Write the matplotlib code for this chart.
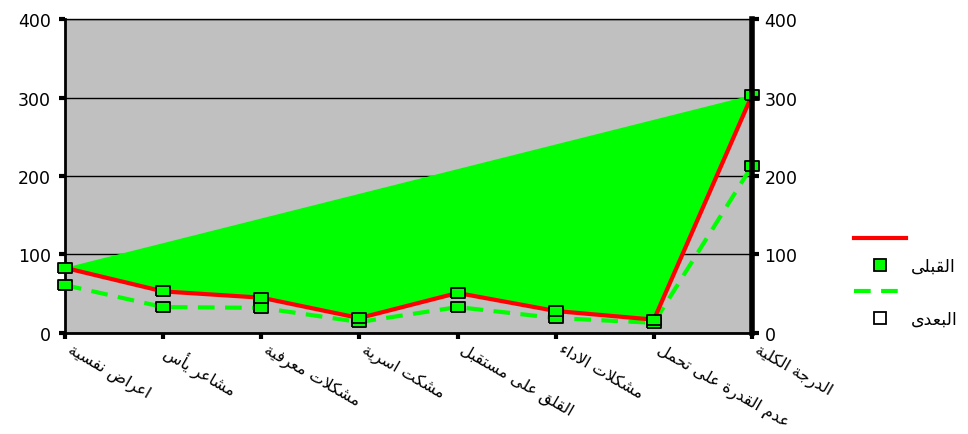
#! /usr/bin/env python3
# -*- coding: utf-8 -*-

import matplotlib
matplotlib.use("Agg")
import matplotlib.pyplot as plt
from matplotlib.lines import Line2D


categories = ["اعراض نفسية", "مشاعر يأس", "مشكلات معرفية", "مشكت اسرية",
              "القلق على مستقبل", "مشكلات الاداء", "عدم القدرة على تحمل",
              "الدرجة الكلية"]
before = [83, 53, 45, 19, 51, 28, 17, 303]
after = [61, 33, 32, 14, 33, 19, 13, 213]
yticks = [0, 100, 200, 300, 400]
labels = ["القبلى", "البعدى"]

# matplotlib has no arabic shaping, so map to presentation forms by hand
FORMS = {
    "ء": (0xFE80,), "آ": (0xFE81, 0xFE82), "أ": (0xFE83, 0xFE84),
    "ؤ": (0xFE85, 0xFE86), "إ": (0xFE87, 0xFE88),
    "ئ": (0xFE89, 0xFE8A, 0xFE8B, 0xFE8C), "ا": (0xFE8D, 0xFE8E),
    "ب": (0xFE8F, 0xFE90, 0xFE91, 0xFE92), "ة": (0xFE93, 0xFE94),
    "ت": (0xFE95, 0xFE96, 0xFE97, 0xFE98), "ث": (0xFE99, 0xFE9A, 0xFE9B, 0xFE9C),
    "ج": (0xFE9D, 0xFE9E, 0xFE9F, 0xFEA0), "ح": (0xFEA1, 0xFEA2, 0xFEA3, 0xFEA4),
    "خ": (0xFEA5, 0xFEA6, 0xFEA7, 0xFEA8), "د": (0xFEA9, 0xFEAA),
    "ذ": (0xFEAB, 0xFEAC), "ر": (0xFEAD, 0xFEAE), "ز": (0xFEAF, 0xFEB0),
    "س": (0xFEB1, 0xFEB2, 0xFEB3, 0xFEB4), "ش": (0xFEB5, 0xFEB6, 0xFEB7, 0xFEB8),
    "ص": (0xFEB9, 0xFEBA, 0xFEBB, 0xFEBC), "ض": (0xFEBD, 0xFEBE, 0xFEBF, 0xFEC0),
    "ط": (0xFEC1, 0xFEC2, 0xFEC3, 0xFEC4), "ظ": (0xFEC5, 0xFEC6, 0xFEC7, 0xFEC8),
    "ع": (0xFEC9, 0xFECA, 0xFECB, 0xFECC), "غ": (0xFECD, 0xFECE, 0xFECF, 0xFED0),
    "ف": (0xFED1, 0xFED2, 0xFED3, 0xFED4), "ق": (0xFED5, 0xFED6, 0xFED7, 0xFED8),
    "ك": (0xFED9, 0xFEDA, 0xFEDB, 0xFEDC), "ل": (0xFEDD, 0xFEDE, 0xFEDF, 0xFEE0),
    "م": (0xFEE1, 0xFEE2, 0xFEE3, 0xFEE4), "ن": (0xFEE5, 0xFEE6, 0xFEE7, 0xFEE8),
    "ه": (0xFEE9, 0xFEEA, 0xFEEB, 0xFEEC), "و": (0xFEED, 0xFEEE),
    "ى": (0xFEEF, 0xFEF0), "ي": (0xFEF1, 0xFEF2, 0xFEF3, 0xFEF4),
}
LAM_ALEF = {"آ": (0xFEF5, 0xFEF6), "أ": (0xFEF7, 0xFEF8),
            "إ": (0xFEF9, 0xFEFA), "ا": (0xFEFB, 0xFEFC)}


def shape(text):
    # merge lam + alef first
    chars = []
    i = 0
    while i < len(text):
        if text[i] == "ل" and i + 1 < len(text) and text[i + 1] in LAM_ALEF:
            chars.append(("LA", text[i + 1]))
            i += 2
        else:
            chars.append((text[i], None))
            i += 1

    def joins_next(c):
        if c[0] == "LA":
            return False
        return c[0] in FORMS and len(FORMS[c[0]]) == 4

    def is_letter(c):
        return c[0] == "LA" or c[0] in FORMS

    out = []
    for k, c in enumerate(chars):
        prev = chars[k - 1] if k > 0 else None
        nxt = chars[k + 1] if k + 1 < len(chars) else None
        jp = prev is not None and joins_next(prev) and is_letter(c)
        if c[0] == "LA":
            out.append(chr(LAM_ALEF[c[1]][1 if jp else 0]))
            continue
        if c[0] not in FORMS:
            out.append(c[0])
            continue
        f = FORMS[c[0]]
        jn = len(f) == 4 and nxt is not None and is_letter(nxt)
        if jp and jn:
            out.append(chr(f[3]))
        elif jp and len(f) > 1:
            out.append(chr(f[1]))
        elif jn:
            out.append(chr(f[2]))
        else:
            out.append(chr(f[0]))
    return "".join(out)[::-1]


def main():
    plt.rcParams["font.family"] = ["DejaVu Sans"]
    fig = plt.figure(figsize=(9.68, 4.35), dpi=100)
    ax = fig.add_axes([0.0671, 0.2322, 0.7098, 0.7218])
    ax.set_facecolor("#C0C0C0")

    x = list(range(len(categories)))

    # the green area is the "before" series closed on itself
    ax.fill(x, before, color="#00FF00", zorder=2, linewidth=0)

    ax.plot(x, after, color="#00FF00", linewidth=3, dashes=(4, 2.5), zorder=3)
    ax.plot(x, before, color="#FF0000", linewidth=3, zorder=4)
    mk = [(-1.3, -1), (1.3, -1), (1.3, 1), (-1.3, 1), (-1.3, -1)]
    ax.plot(x, after, linestyle="none", marker=mk, markersize=10,
            markerfacecolor="#00FF00", markeredgecolor="black",
            markeredgewidth=1.3, zorder=5, clip_on=False)
    ax.plot(x, before, linestyle="none", marker=mk, markersize=10,
            markerfacecolor="#00FF00", markeredgecolor="black",
            markeredgewidth=1.3, zorder=5, clip_on=False)

    ax.set_xlim(0, len(categories) - 1)
    ax.set_ylim(0, 400)
    ax.set_yticks(yticks)
    ax.yaxis.grid(True, color="black", linewidth=1)
    ax.set_axisbelow(True)

    ax.set_xticks(x)
    ax.set_xticklabels([])
    for xi, name in zip(x, categories):
        ax.text(xi + 0.08, -10, shape(name), rotation=-30,
                rotation_mode="anchor", ha="left", va="top", fontsize=11.5,
                clip_on=False)

    ax.tick_params(axis="x", direction="out", length=4, width=3)
    ax.tick_params(axis="y", direction="out", length=4, width=3,
                   labelsize=12.5, pad=6)

    for s in ["left", "bottom"]:
        ax.spines[s].set_linewidth(2)
    ax.spines["top"].set_linewidth(1)
    ax.spines["right"].set_visible(False)

    ax2 = ax.twinx()
    ax2.set_ylim(0, 400)
    ax2.set_yticks(yticks)
    ax2.spines["right"].set_linewidth(4)
    for s in ["left", "top", "bottom"]:
        ax2.spines[s].set_visible(False)
    ax2.tick_params(axis="y", direction="out", length=5, width=3,
                    labelsize=12.5, pad=4)

    handles = [
        Line2D([], [], color="#FF0000", linewidth=3),
        Line2D([], [], linestyle="none", marker="s", markersize=8,
               markerfacecolor="#00FF00", markeredgecolor="black",
               markeredgewidth=1.3),
        Line2D([], [], color="#00FF00", linewidth=3, dashes=(4, 2.5)),
        Line2D([], [], linestyle="none", marker="s", markersize=8,
               markerfacecolor="white", markeredgecolor="black",
               markeredgewidth=1.3),
    ]
    fig.legend(handles, ["", shape(labels[0]), "", shape(labels[1])],
               loc="upper left", bbox_to_anchor=(0.866, 0.505),
               frameon=False, fontsize=12.5, handlelength=3,
               labelspacing=0.5, handletextpad=0.3)

    fig.savefig("out.png", dpi=100)


if __name__ == "__main__":
    main()
